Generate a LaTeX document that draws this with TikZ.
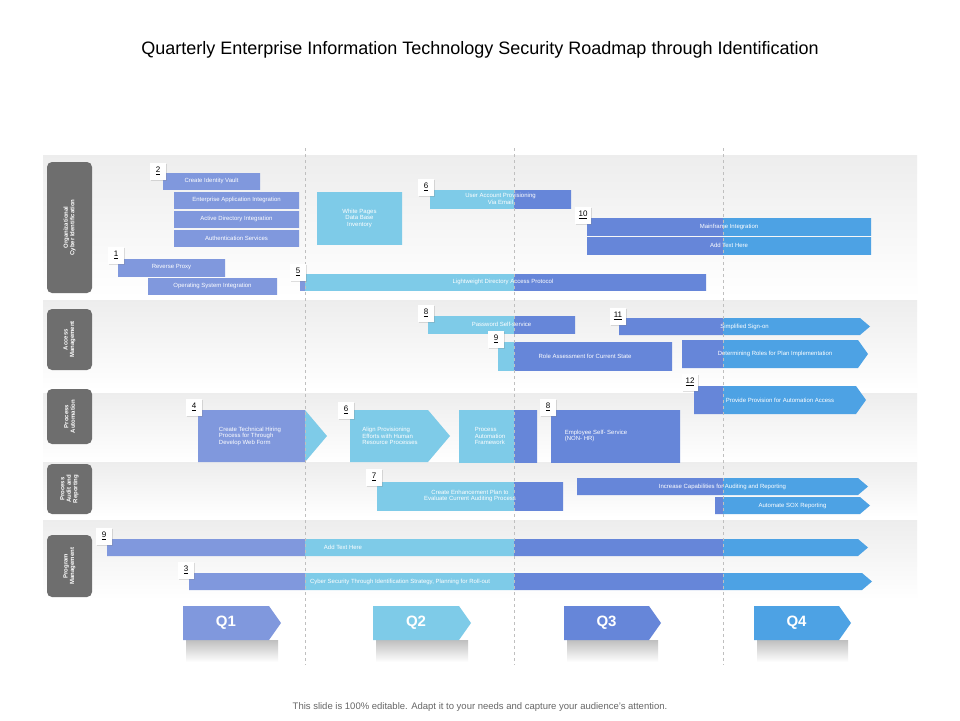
\documentclass[tikz,border=0pt]{standalone}
\usepackage{fontspec}
\setmainfont{Liberation Sans}
\usetikzlibrary{shadows}
\definecolor{qa}{HTML}{8098DD}
\definecolor{qb}{HTML}{7ECBE8}
\definecolor{qc}{HTML}{6686D9}
\definecolor{qd}{HTML}{4DA2E4}
\definecolor{lanegray}{HTML}{6E6E6E}
\newcommand\qfill[1]{\begin{scope}\clip #1;
 \fill[qa] (0,0) rectangle (305,720); \fill[qb] (305,0) rectangle (514,720);
 \fill[qc] (514,0) rectangle (723,720); \fill[qd] (723,0) rectangle (960,720);\end{scope}}
% rect bar: x1 y1 x2 y2 name text
\newcommand\rbar[6]{\qfill{(#1,#2) rectangle (#3,#4)}
 \node[bt] (#5) at ({(#1+#3)/2},{(#2+#4)/2}) {#6};}
\newcommand\abar[6]{\qfill{(#1,#2) -- ({#3-10},#2) -- (#3,{(#2+#4)/2}) -- ({#3-10},#4) -- (#1,#4) -- cycle}
 \node[bt] (#5) at ({(#1+#3)/2},{(#2+#4)/2}) {#6};}
\newcommand\numbox[4]{\node[numb] (#1) at (#2,#3) {\underline{#4}};}
\newcommand\lane[5]{\shade[top color=black!7,bottom color=white] (43,#1) rectangle (917,#2);
 \node[lanebox,minimum height={#4-#3}] (#5) at (69.5,{(#3+#4)/2}) {};}
\newcommand\qbox[4]{\shade[top color=black!25,bottom color=white] ({#1+3},640) rectangle ({#2-3},662);
 \qfill{(#1,606) -- ({#2-12},606) -- (#2,623) -- ({#2-12},640) -- (#1,640) -- cycle}
 \node[qt] (#3) at ({(#1+#2)/2-6},623) {#4};}
\tikzset{
 bt/.style={text=white,font=\fontsize{6}{6.5}\selectfont,align=center,inner sep=0pt},
 numb/.style={fill=white,minimum width=16pt,minimum height=17pt,inner sep=0pt,font=\fontsize{8}{9}\selectfont,drop shadow={opacity=0.25,shadow xshift=1pt,shadow yshift=-1pt}},
 lanebox/.style={fill=lanegray,rounded corners=5pt,minimum width=45pt,inner sep=0pt},
 lanet/.style={text=white,font=\bfseries\fontsize{6}{6.5}\selectfont,align=center,rotate=90,inner sep=0pt},
 qt/.style={text=white,font=\bfseries\fontsize{15}{16}\selectfont,inner sep=0pt},
 vline/.style={dashed,draw=black!25,line width=0.6pt},
}
\begin{document}
\begin{tikzpicture}[x=1pt,y=-1pt]
\useasboundingbox (0,0) rectangle (960,720);
\fill[white] (0,0) rectangle (960,720);
\node[font=\fontsize{18}{20}\selectfont] (title) at (480,50) {Quarterly Enterprise Information Technology Security Roadmap through Identification};
% lanes
\lane{155}{297}{162}{293}{L1}
\lane{300}{390}{309}{370}{L2}
\lane{393}{462}{389}{444}{L3}
\lane{462}{517}{464}{514}{L4}
\lane{520}{600}{535}{597}{L5}
\node[lanet] at (L1) {Organizational\\Cyber Identification};
\node[lanet] at (L2) {Access\\Management};
\node[lanet] at (L3) {Process\\Automation};
\node[lanet] at (L4) {Process\\Audit and\\Reporting};
\node[lanet] at (L5) {Program\\Management};
% lane 1
\rbar{163}{173}{260}{189}{b1}{Create Identity Vault}
\rbar{174}{192}{299}{208}{b2}{Enterprise Application Integration}
\rbar{174}{211}{299}{227}{b3}{Active Directory Integration}
\rbar{174}{230}{299}{246}{b4}{Authentication Services}
\rbar{317}{192}{402}{244}{b5}{White Pages\\Data Base\\Inventory}
\rbar{430}{190}{571}{208}{b6}{User Account Provisioning\\Via Email}
\rbar{587}{218}{871}{235}{b7}{Mainframe Integration}
\rbar{587}{237}{871}{254}{b8}{Add Text Here}
\rbar{118}{259}{225}{276}{b9}{Reverse Proxy}
\rbar{148}{278}{277}{294}{b10}{Operating System Integration}
\rbar{300}{274}{706}{290}{b11}{Lightweight Directory Access Protocol}
% lane 2
\rbar{428}{316}{575}{333}{b12}{Password Self-service}
\abar{619}{318}{870}{335}{b13}{Simplified Sign-on}
\rbar{498}{342}{672}{370}{b14}{Role Assessment for Current State}
\abar{682}{340}{868}{368}{b15}{Determining Roles for Plan Implementation}
\abar{694}{386}{866}{414}{b16}{Provide Provision for Automation Access}
% lane 3
\qfill{(198,410) -- (305,410) -- (327,436) -- (305,462) -- (198,462) -- cycle}
\node[bt,align=left] (b17) at (250,436) {Create Technical Hiring\\Process for Through\\Develop Web Form};
\qfill{(350,410) -- (428,410) -- (450,436) -- (428,462) -- (350,462) -- cycle}
\node[bt,align=left] (b18) at (390,436) {Align Provisioning\\Efforts with Human\\Resource Processes};
\rbar{459}{410}{537}{462}{b19x}{}
\node[bt,align=left] (b19) at (490,436) {Process\\Automation\\Framework};
\rbar{551}{410}{680}{462}{b20x}{}
\node[bt,align=left] (b20) at (596,436) {Employee Self- Service\\(NON- HR)};
% lane 4
\rbar{377}{482}{563}{510}{b21}{Create Enhancement Plan to\\Evaluate Current Auditing Process}
\abar{577}{478}{868}{495}{b22}{Increase Capabilities for Auditing and Reporting}
\abar{715}{497}{870}{514}{b23}{Automate SOX Reporting}
% lane 5
\abar{107}{539}{868}{556}{b24x}{}
\node[bt] (b24) at (343,547.5) {Add Text Here};
\abar{189}{573}{872}{590}{b25x}{}
\node[bt] (b25) at (400,581.5) {Cyber Security Through Identification Strategy, Planning for Roll-out};
% dashed quarter lines
\foreach \x in {305,514,723} \draw[vline] (\x,148) -- (\x,665);
% numbers
\numbox{n2}{158}{171}{2}
\numbox{n6a}{426}{187}{6}
\numbox{n10}{583}{215}{10}
\numbox{n1}{116}{255}{1}
\numbox{n5}{298}{272}{5}
\numbox{n8a}{426}{313}{8}
\numbox{n11}{618}{316}{11}
\numbox{n9a}{496}{339}{9}
\numbox{n12}{690}{382}{12}
\numbox{n4}{194}{407}{4}
\numbox{n6b}{346}{410}{6}
\numbox{n8b}{548}{407}{8}
\numbox{n7}{374}{477}{7}
\numbox{n9b}{104}{536}{9}
\numbox{n3}{186}{570}{3}
% quarters
\qbox{183}{281}{q1}{Q1}
\qbox{373}{471}{q2}{Q2}
\qbox{564}{661}{q3}{Q3}
\qbox{754}{851}{q4}{Q4}
\node[text=black!60,font=\fontsize{9.5}{11}\selectfont] (foot) at (480,707) {This slide is 100\% editable. Adapt it to your needs and capture your audience's attention.};
\end{tikzpicture}
\end{document}
